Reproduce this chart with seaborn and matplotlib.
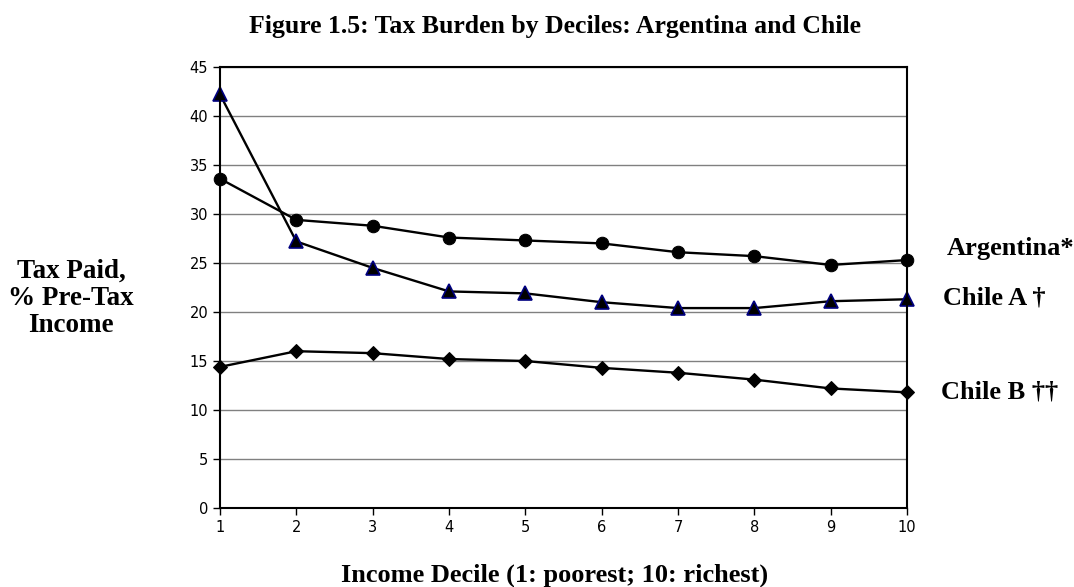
import matplotlib
matplotlib.use("Agg")
import matplotlib.pyplot as plt
import seaborn as sns
import pandas as pd

sns.set_style("white")
plt.rcParams["text.color"] = "black"
plt.rcParams["xtick.color"] = "black"
plt.rcParams["ytick.color"] = "black"

deciles = [1, 2, 3, 4, 5, 6, 7, 8, 9, 10]
argentina = [33.6, 29.4, 28.8, 27.6, 27.3, 27.0, 26.1, 25.7, 24.8, 25.3]
chile_a = [42.2, 27.2, 24.5, 22.1, 21.9, 21.0, 20.4, 20.4, 21.1, 21.3]
chile_b = [14.4, 16.0, 15.8, 15.2, 15.0, 14.3, 13.8, 13.1, 12.2, 11.8]

labels = ["Argentina*", "Chile A \u2020", "Chile B \u2020\u2020"]

df = pd.DataFrame({"decile": deciles, "Argentina": argentina,
                   "Chile A": chile_a, "Chile B": chile_b})

serif = {"family": "Liberation Serif", "weight": "bold", "color": "black"}
W, H = 1074, 587

fig = plt.figure(figsize=(W / 100, H / 100), dpi=100)
ax = fig.add_axes([220/W, 1 - 508/H, (907-220)/W, (508-67)/H])

sns.lineplot(data=df, x="decile", y="Argentina", ax=ax, color="black", lw=1.7,
             marker="o", markersize=9, markeredgecolor="black")
sns.lineplot(data=df, x="decile", y="Chile A", ax=ax, color="black", lw=1.7,
             marker="^", markersize=10, markerfacecolor="black",
             markeredgecolor="#000080", markeredgewidth=1.2)
sns.lineplot(data=df, x="decile", y="Chile B", ax=ax, color="black", lw=1.7,
             marker="D", markersize=7, markeredgecolor="black")

for a in ax.lines:
    a.set_clip_on(False)

ax.set_xlim(1, 10)
ax.set_ylim(0, 45)
ax.set_xticks(deciles)
ax.set_yticks(range(0, 50, 5))
ax.yaxis.grid(True, color="#808080", lw=1)
ax.set_axisbelow(True)
for s in ax.spines.values():
    s.set_color("black")
    s.set_linewidth(1.5)
ax.tick_params(axis="both", direction="out", length=5, width=1, color="black",
               labelsize=10.5, labelcolor="black", bottom=True, left=True)
ax.set_xlabel("")
ax.set_ylabel("")

fig.text(555/W, 1 - 33/H, "Figure 1.5: Tax Burden by Deciles: Argentina and Chile",
         ha="center", va="baseline", fontsize=18.5, **serif)
fig.text(555/W, 1 - 582/H, "Income Decile (1: poorest; 10: richest)",
         ha="center", va="baseline", fontsize=19, **serif)
fig.text(71/W, 1 - 259/H, "Tax Paid,\n% Pre-Tax\nIncome",
         ha="center", va="top", fontsize=19.5, linespacing=1.1, **serif)

label_pos = [(947, 248), (943, 298), (941, 392)]
for (px, py), t in zip(label_pos, labels):
    fig.text(px/W, 1 - py/H, t, ha="left", va="center", fontsize=19, **serif)

fig.savefig("out.png", dpi=100)
